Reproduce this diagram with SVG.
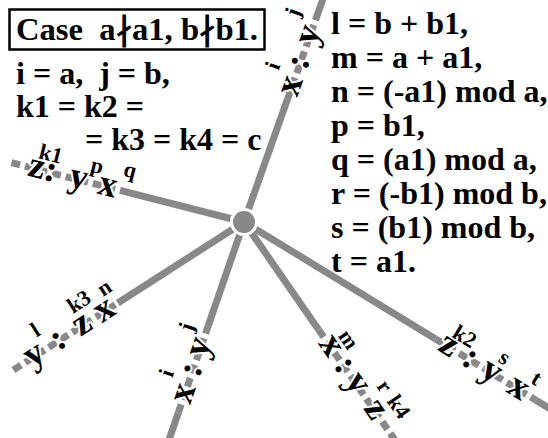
<svg xmlns="http://www.w3.org/2000/svg" width="548" height="438" viewBox="0 0 548 438">
<style>
.sp{stroke:#888;stroke-width:7;fill:none}
.ds{stroke:#888;stroke-width:7;fill:none;stroke-dasharray:9 5}
.t{font-family:"Liberation Serif","Times New Roman",serif;font-weight:bold;fill:#000}
.big{font-size:32px}
.L{font-size:37px;text-anchor:middle;stroke:#fff;stroke-width:4;paint-order:stroke;stroke-linejoin:round}
.S{font-size:22px;text-anchor:middle;stroke:#fff;stroke-width:3;paint-order:stroke;stroke-linejoin:round}
</style>
<rect width="548" height="438" fill="#fff"/>
<g id="connectors">
<g transform="translate(244,222) rotate(-70.5)"><line class="sp" x1="0" y1="0" x2="130" y2="0"/><line class="ds" x1="130" y1="0" x2="214" y2="0"/><line class="sp" x1="214" y1="0" x2="245" y2="0"/></g>
<g transform="translate(244,222) rotate(14.3)"><line class="ds" x1="-240" y1="0" x2="-128" y2="0"/><line class="sp" x1="-128" y1="0" x2="0" y2="0"/></g>
<g transform="translate(244,222) rotate(-32.7)"><line class="ds" x1="-274" y1="0" x2="-150" y2="0"/><line class="sp" x1="-150" y1="0" x2="0" y2="0"/></g>
<g transform="translate(244,222) rotate(-71)"><line class="sp" x1="-232" y1="0" x2="-202" y2="0"/><line class="ds" x1="-202" y1="0" x2="-110" y2="0"/><line class="sp" x1="-110" y1="0" x2="0" y2="0"/></g>
<g transform="translate(244,222) rotate(55.3)"><line class="sp" x1="0" y1="0" x2="131" y2="0"/><line class="ds" x1="131" y1="0" x2="268" y2="0"/></g>
<g transform="translate(244,222) rotate(31.4)"><line class="sp" x1="0" y1="0" x2="224" y2="0"/><line class="ds" x1="224" y1="0" x2="342" y2="0"/><line class="sp" x1="342" y1="0" x2="362" y2="0"/></g>
</g>
<g id="hub"><circle cx="244" cy="222" r="12.5" fill="#888" stroke="#fff" stroke-width="3"/></g>
<g id="label1" class="t" transform="translate(244,222) rotate(-70.5)">
<text class="L" x="144" y="8.5">x</text><text class="S" x="157" y="-18">i</text><text class="L" x="169" y="8.5">:</text><text class="L" x="198" y="8.5">y</text><text class="S" x="214" y="-17">j</text>
</g>
<g id="label2" class="t" transform="translate(244,222) rotate(14.3)">
<text class="L" x="-214" y="8.5">z</text><text class="S" x="-204" y="-11">k1</text><text class="L" x="-200" y="8.5">:</text><text class="L" x="-171" y="8.5">y</text><text class="S" x="-156" y="-11">p</text><text class="L" x="-141" y="8.5">x</text><text class="S" x="-123" y="-15">q</text>
</g>
<g id="label3" class="t" transform="translate(244,222) rotate(-32.7)">
<text class="L" x="-248" y="8.5">y</text><text class="S" x="-234" y="-15">l</text><text class="L" x="-220" y="8.5">:</text><text class="L" x="-191.5" y="8.5">z</text><text class="S" x="-182" y="-15">k3</text><text class="L" x="-165" y="8.5">x</text><text class="S" x="-153" y="-13">n</text>
</g>
<g id="label4" class="t" transform="translate(244,222) rotate(-71)">
<text class="L" x="-181.6" y="8.5">x</text><text class="S" x="-168" y="-17">i</text><text class="L" x="-156.7" y="8.5">:</text><text class="L" x="-133" y="8.5">y</text><text class="S" x="-118" y="-13">j</text>
</g>
<g id="label5" class="t" transform="translate(244,222) rotate(55.3)">
<text class="L" x="151" y="8.5">x</text><text class="S" x="156" y="-12">m</text><text class="L" x="175" y="8.5">:</text><text class="L" x="197" y="8.5">y</text><text class="S" x="215" y="-15">r</text><text class="L" x="229" y="8.5">z</text><text class="S" x="240" y="-15">k4</text>
</g>
<g id="label6" class="t" transform="translate(244,222) rotate(31.4)">
<text class="L" x="239" y="8.5">z</text><text class="S" x="248" y="-10">k2</text><text class="L" x="264" y="8.5">:</text><text class="L" x="289" y="8.5">y</text><text class="S" x="293" y="-13">s</text><text class="L" x="320.5" y="8.5">x</text><text class="S" x="331" y="-12">t</text>
</g>
<g id="title">
<rect x="9.5" y="9.5" width="255" height="40" fill="#fff" stroke="#000" stroke-width="2.5"/>
<text class="t" x="16" y="40" font-size="32" textLength="242" lengthAdjust="spacingAndGlyphs" xml:space="preserve">Case  a∤a1, b∤b1.</text>
</g>
<g id="left-text" class="t big">
<text x="16" y="84" xml:space="preserve">i = a,  j = b,</text>
<text x="16" y="117">k1 = k2 =</text>
<text x="85" y="150">= k3 = k4 = c</text>
</g>
<g id="right-text" class="t big">
<text x="331" y="34">l = b + b1,</text>
<text x="331" y="68">m = a + a1,</text>
<text x="331" y="102">n = (-a1) mod a,</text>
<text x="331" y="136">p = b1,</text>
<text x="331" y="170">q = (a1) mod a,</text>
<text x="331" y="204">r = (-b1) mod b,</text>
<text x="331" y="238">s = (b1) mod b,</text>
<text x="331" y="272">t = a1.</text>
</g>
</svg>
